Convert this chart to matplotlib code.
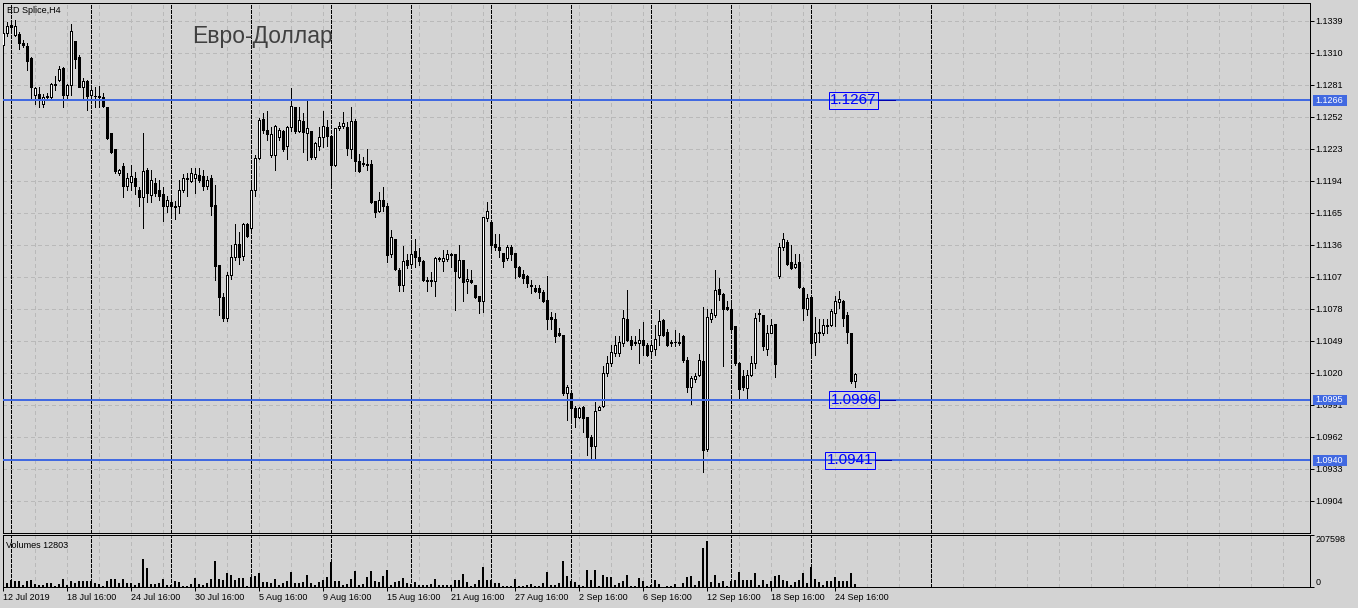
import numpy as np
import matplotlib.pyplot as plt
from matplotlib.patches import Rectangle
from matplotlib.ticker import FixedLocator

plt.rcParams['font.family'] = ['Liberation Sans', 'DejaVu Sans']

# EURUSD H4 candles
opens = [
    1.1317, 1.1328, 1.1335, 1.1326, 1.1327, 1.1319, 1.1316, 1.1305, 1.1272, 1.1273,
    1.1264, 1.1270, 1.1270, 1.1282, 1.1285, 1.1296, 1.1272, 1.1281, 1.1321, 1.1306,
    1.1279, 1.1284, 1.1272, 1.1271, 1.1271, 1.1270, 1.1261, 1.1237, 1.1223, 1.1201,
    1.1207, 1.1189, 1.1193, 1.1197, 1.1186, 1.1179, 1.1204, 1.1181, 1.1192, 1.1186,
    1.1182, 1.1171, 1.1175, 1.1171, 1.1171, 1.1186, 1.1196, 1.1194, 1.1197, 1.1199,
    1.1198, 1.1189, 1.1197, 1.1172, 1.1118, 1.1089, 1.1070, 1.1109, 1.1125, 1.1137,
    1.1126, 1.1155, 1.1151, 1.1186, 1.1215, 1.1250, 1.1240, 1.1217, 1.1217, 1.1234,
    1.1239, 1.1226, 1.1243, 1.1261, 1.1239, 1.1248, 1.1237, 1.1239, 1.1216, 1.1226,
    1.1234, 1.1243, 1.1235, 1.1208, 1.1242, 1.1244, 1.1243, 1.1223, 1.1248, 1.1212,
    1.1210, 1.1209, 1.1209, 1.1176, 1.1167, 1.1177, 1.1171, 1.1128, 1.1141, 1.1113,
    1.1100, 1.1122, 1.1119, 1.1130, 1.1125, 1.1121, 1.1104, 1.1103, 1.1103, 1.1124,
    1.1121, 1.1123, 1.1127, 1.1128, 1.1107, 1.1122, 1.1103, 1.1104, 1.1100, 1.1090,
    1.1085, 1.1160, 1.1157, 1.1137, 1.1134, 1.1129, 1.1124, 1.1134, 1.1129, 1.1116,
    1.1110, 1.1108, 1.1100, 1.1097, 1.1097, 1.1093, 1.1086, 1.1071, 1.1069, 1.1056,
    1.1054, 1.1002, 1.1002, 1.0988, 1.0980, 1.0989, 1.0980, 1.0962, 1.0954, 1.0986,
    1.0990, 1.1020, 1.1029, 1.1038, 1.1038, 1.1047, 1.1069, 1.1050, 1.1048, 1.1047,
    1.1050, 1.1045, 1.1040, 1.1042, 1.1054, 1.1068, 1.1057, 1.1047, 1.1048, 1.1048,
    1.1053, 1.1032, 1.1007, 1.1014, 1.1018, 1.1031, 1.0951, 1.1069, 1.1072, 1.1096,
    1.1091, 1.1080, 1.1078, 1.1062, 1.1029, 1.1017, 1.1006, 1.1018, 1.1029, 1.1074,
    1.1072, 1.1042, 1.1056, 1.1064, 1.1108, 1.1134, 1.1139, 1.1120, 1.1116, 1.1120,
    1.1097, 1.1078, 1.1089, 1.1048, 1.1056, 1.1056, 1.1062, 1.1063, 1.1074, 1.1084,
    1.1085, 1.1072, 1.1056, 1.1013,
]
highs = [
    1.1329, 1.1338, 1.1340, 1.1340, 1.1329, 1.1322, 1.1319, 1.1306, 1.1279, 1.1279,
    1.1273, 1.1274, 1.1283, 1.1289, 1.1298, 1.1297, 1.1282, 1.1336, 1.1321, 1.1308,
    1.1287, 1.1285, 1.1279, 1.1279, 1.1280, 1.1274, 1.1261, 1.1237, 1.1223, 1.1205,
    1.1210, 1.1201, 1.1208, 1.1202, 1.1188, 1.1237, 1.1206, 1.1204, 1.1197, 1.1195,
    1.1188, 1.1180, 1.1178, 1.1176, 1.1195, 1.1200, 1.1201, 1.1206, 1.1206, 1.1206,
    1.1204, 1.1198, 1.1199, 1.1190, 1.1118, 1.1092, 1.1111, 1.1136, 1.1155, 1.1148,
    1.1156, 1.1156, 1.1195, 1.1217, 1.1251, 1.1255, 1.1257, 1.1243, 1.1245, 1.1242,
    1.1240, 1.1244, 1.1278, 1.1261, 1.1261, 1.1255, 1.1267, 1.1239, 1.1229, 1.1243,
    1.1257, 1.1249, 1.1235, 1.1242, 1.1247, 1.1256, 1.1247, 1.1261, 1.1250, 1.1218,
    1.1216, 1.1223, 1.1213, 1.1176, 1.1184, 1.1188, 1.1174, 1.1149, 1.1141, 1.1115,
    1.1135, 1.1128, 1.1138, 1.1141, 1.1133, 1.1122, 1.1107, 1.1111, 1.1125, 1.1125,
    1.1131, 1.1131, 1.1129, 1.1128, 1.1136, 1.1122, 1.1114, 1.1113, 1.1100, 1.1090,
    1.1161, 1.1175, 1.1157, 1.1146, 1.1146, 1.1129, 1.1136, 1.1136, 1.1129, 1.1117,
    1.1113, 1.1109, 1.1104, 1.1100, 1.1100, 1.1095, 1.1108, 1.1075, 1.1074, 1.1061,
    1.1054, 1.1009, 1.1003, 1.0990, 1.0989, 1.0990, 1.0980, 1.0964, 1.0994, 1.0990,
    1.1026, 1.1035, 1.1045, 1.1053, 1.1053, 1.1077, 1.1095, 1.1053, 1.1053, 1.1060,
    1.1066, 1.1047, 1.1050, 1.1063, 1.1077, 1.1069, 1.1060, 1.1050, 1.1059, 1.1056,
    1.1054, 1.1034, 1.1017, 1.1020, 1.1037, 1.1080, 1.1078, 1.1078, 1.1113, 1.1106,
    1.1092, 1.1085, 1.1085, 1.1062, 1.1030, 1.1023, 1.1023, 1.1035, 1.1074, 1.1078,
    1.1072, 1.1063, 1.1069, 1.1064, 1.1138, 1.1147, 1.1140, 1.1136, 1.1128, 1.1128,
    1.1098, 1.1091, 1.1089, 1.1071, 1.1069, 1.1069, 1.1069, 1.1078, 1.1090, 1.1094,
    1.1086, 1.1075, 1.1056, 1.1020,
]
lows = [
    1.1306, 1.1325, 1.1328, 1.1325, 1.1313, 1.1315, 1.1294, 1.1268, 1.1264, 1.1261,
    1.1261, 1.1267, 1.1268, 1.1276, 1.1284, 1.1261, 1.1268, 1.1272, 1.1296, 1.1279,
    1.1269, 1.1258, 1.1267, 1.1261, 1.1261, 1.1261, 1.1232, 1.1219, 1.1201, 1.1199,
    1.1179, 1.1186, 1.1186, 1.1182, 1.1171, 1.1151, 1.1175, 1.1175, 1.1180, 1.1177,
    1.1158, 1.1166, 1.1163, 1.1159, 1.1165, 1.1184, 1.1180, 1.1193, 1.1183, 1.1193,
    1.1186, 1.1187, 1.1163, 1.1104, 1.1072, 1.1067, 1.1067, 1.1105, 1.1122, 1.1119,
    1.1122, 1.1143, 1.1150, 1.1180, 1.1214, 1.1237, 1.1231, 1.1216, 1.1204, 1.1231,
    1.1221, 1.1214, 1.1239, 1.1237, 1.1238, 1.1220, 1.1213, 1.1214, 1.1214, 1.1222,
    1.1225, 1.1226, 1.1191, 1.1207, 1.1240, 1.1242, 1.1217, 1.1215, 1.1203, 1.1202,
    1.1207, 1.1204, 1.1174, 1.1161, 1.1166, 1.1167, 1.1120, 1.1125, 1.1113, 1.1094,
    1.1094, 1.1115, 1.1115, 1.1116, 1.1118, 1.1103, 1.1094, 1.1099, 1.1090, 1.1121,
    1.1112, 1.1121, 1.1116, 1.1077, 1.1106, 1.1085, 1.1092, 1.1101, 1.1088, 1.1074,
    1.1075, 1.1158, 1.1131, 1.1131, 1.1125, 1.1116, 1.1122, 1.1122, 1.1106, 1.1107,
    1.1101, 1.1098, 1.1092, 1.1093, 1.1088, 1.1084, 1.1060, 1.1060, 1.1048, 1.1053,
    1.1000, 1.0977, 1.0976, 1.0971, 1.0979, 1.0966, 1.0946, 1.0941, 1.0941, 1.0986,
    1.0989, 1.1017, 1.1026, 1.1035, 1.1035, 1.1044, 1.1049, 1.1042, 1.1045, 1.1029,
    1.1036, 1.1035, 1.1034, 1.1036, 1.1045, 1.1053, 1.1044, 1.1044, 1.1044, 1.1045,
    1.1030, 1.1003, 1.0992, 1.1012, 1.1017, 1.0930, 1.0949, 1.1066, 1.1071, 1.1086,
    1.1026, 1.1077, 1.1059, 1.1027, 1.0997, 1.1004, 1.0997, 1.1017, 1.1024, 1.1067,
    1.1041, 1.1036, 1.1056, 1.1016, 1.1106, 1.1131, 1.1118, 1.1114, 1.1115, 1.1097,
    1.1068, 1.1072, 1.1036, 1.1036, 1.1048, 1.1054, 1.1056, 1.1062, 1.1062, 1.1079,
    1.1062, 1.1047, 1.1011, 1.1007,
]
closes = [
    1.1328, 1.1334, 1.1333, 1.1334, 1.1319, 1.1317, 1.1303, 1.1279, 1.1278, 1.1268,
    1.1270, 1.1271, 1.1282, 1.1281, 1.1295, 1.1272, 1.1281, 1.1330, 1.1304, 1.1279,
    1.1284, 1.1271, 1.1276, 1.1271, 1.1270, 1.1262, 1.1233, 1.1220, 1.1203, 1.1204,
    1.1189, 1.1197, 1.1198, 1.1189, 1.1179, 1.1203, 1.1183, 1.1195, 1.1183, 1.1180,
    1.1171, 1.1177, 1.1171, 1.1170, 1.1186, 1.1197, 1.1197, 1.1201, 1.1200, 1.1195,
    1.1189, 1.1195, 1.1171, 1.1117, 1.1089, 1.1070, 1.1109, 1.1125, 1.1137, 1.1125,
    1.1155, 1.1144, 1.1186, 1.1215, 1.1249, 1.1240, 1.1236, 1.1236, 1.1244, 1.1240,
    1.1223, 1.1243, 1.1262, 1.1239, 1.1249, 1.1238, 1.1242, 1.1216, 1.1228, 1.1234,
    1.1244, 1.1235, 1.1208, 1.1242, 1.1244, 1.1246, 1.1224, 1.1248, 1.1212, 1.1203,
    1.1209, 1.1208, 1.1175, 1.1166, 1.1177, 1.1171, 1.1127, 1.1143, 1.1114, 1.1100,
    1.1121, 1.1118, 1.1128, 1.1125, 1.1121, 1.1104, 1.1103, 1.1104, 1.1124, 1.1123,
    1.1124, 1.1128, 1.1128, 1.1112, 1.1122, 1.1102, 1.1105, 1.1102, 1.1089, 1.1085,
    1.1161, 1.1167, 1.1136, 1.1134, 1.1131, 1.1121, 1.1134, 1.1128, 1.1116, 1.1108,
    1.1106, 1.1101, 1.1099, 1.1094, 1.1093, 1.1085, 1.1069, 1.1069, 1.1053, 1.1054,
    1.1002, 1.1007, 1.0988, 1.0980, 1.0988, 1.0979, 1.0962, 1.0954, 1.0985, 1.0989,
    1.1020, 1.1029, 1.1039, 1.1045, 1.1048, 1.1070, 1.1050, 1.1045, 1.1047, 1.1050,
    1.1045, 1.1036, 1.1045, 1.1051, 1.1067, 1.1054, 1.1045, 1.1048, 1.1048, 1.1047,
    1.1032, 1.1007, 1.1015, 1.1017, 1.1032, 1.0950, 1.1071, 1.1074, 1.1095, 1.1091,
    1.1078, 1.1078, 1.1060, 1.1029, 1.1005, 1.1007, 1.1018, 1.1029, 1.1070, 1.1073,
    1.1044, 1.1056, 1.1063, 1.1028, 1.1134, 1.1141, 1.1119, 1.1115, 1.1119, 1.1098,
    1.1079, 1.1088, 1.1047, 1.1056, 1.1057, 1.1063, 1.1063, 1.1076, 1.1085, 1.1087,
    1.1070, 1.1057, 1.1013, 1.1019,
]
volumes = [
    14000,
    16000, 29300, 24000, 24000, 10600, 24000, 30600, 13300, 10600, 10600,
    16000, 18600, 6700, 13300, 33300, 10600, 26600, 16000, 24000, 26600,
    24000, 26600, 17300, 13300, 6700, 26600, 33300, 33300, 16000, 33300,
    16000, 16000, 9300, 16000, 113100, 77200, 13300, 13300, 16000, 33300,
    10600, 8000, 24000, 22600, 6700, 6700, 13300, 37300, 13300, 10600,
    16000, 33300, 106500, 33300, 30600, 57200, 49200, 30600, 37300, 35900,
    6700, 39900, 43900, 57200, 22600, 20000, 16000, 33300, 10600, 17300,
    26600, 62500, 16000, 17300, 20000, 50600, 16000, 10600, 20000, 30600,
    39900, 99800, 24000, 24000, 10600, 13300, 33300, 66500, 10600, 13300,
    42600, 66500, 26600, 20000, 46600, 69200, 10600, 22600, 26600, 37300,
    16000, 13300, 22600, 9300, 10600, 10600, 13300, 33300, 9300, 9300,
    9300, 9300,
    29300, 29300, 53200, 22600, 6700, 13300, 29300, 82500, 29300, 29300,
    16000, 16000, 6700, 6700, 6700, 33300, 6700, 6700, 10600, 13300,
    6700, 6700, 16000, 62500, 10600, 10600, 16000, 106500, 46600, 24000,
    20000, 10600, 6700, 69200, 29300, 69200, 6700, 50600, 39900, 39900,
    10600, 16000, 26600, 50600, 6700, 6700, 37300, 26600, 6700, 10600,
    29300, 13300, 2700, 6700, 6700, 13300, 2700, 16000, 42600, 46600,
    10600, 26600, 157000, 186300, 22600, 50600, 16000, 26600, 6700, 24000,
    29300, 62500, 29300, 29300, 29300, 58600, 10600, 29300, 13300, 24000,
    46600, 50600, 29300, 24000, 10600, 20000, 29300, 58600, 16000, 79800,
    33300, 22600, 10600, 24000, 24000, 42600, 26600, 24000, 26600, 55900,
    12803,
]
vol_max = 207598

x_labels = ['12 Jul 2019', '18 Jul 16:00', '24 Jul 16:00', '30 Jul 16:00',
            '5 Aug 16:00', '9 Aug 16:00', '15 Aug 16:00', '21 Aug 16:00',
            '27 Aug 16:00', '2 Sep 16:00', '6 Sep 16:00', '12 Sep 16:00',
            '18 Sep 16:00', '24 Sep 16:00']
price_ticks = [1.1339, 1.1310, 1.1281, 1.1252, 1.1223, 1.1194, 1.1165, 1.1136,
               1.1107, 1.1078, 1.1049, 1.1020, 1.0991, 1.0962, 1.0933, 1.0904]
week_starts = [2, 22, 42, 62, 82, 102, 122, 142, 162, 182, 202, 232]

# horizontal levels
levels = [1.12668, 1.09957, 1.09406]
level_tags = ['1.1266', '1.0995', '1.0940']
level_notes = ['1.1267', '1.0996', '1.0941']

bg = '#d3d3d3'
grid_c = '#b9b9b9'
blue = '#4169e1'
W, H = 1358, 608
px = 0.72  # one pixel in points

fig = plt.figure(figsize=(W / 100, H / 100), dpi=100, facecolor=bg)


def rect(l, t, r, b):
    return [l / W, 1 - b / H, (r - l) / W, (b - t) / H]


ax = fig.add_axes(rect(3, 2.7, 1310, 533.3), facecolor=bg)
axv = fig.add_axes(rect(3, 535.3, 1310, 587.3), facecolor=bg, sharex=ax)

o = np.array(opens)
h = np.array(highs)
l = np.array(lows)
c = np.array(closes)
x = np.arange(len(c))

# candles
ax.vlines(x, l, h, colors='black', lw=px, antialiased=False, zorder=3)
body_lo = np.minimum(o, c)
body_h = np.maximum(np.abs(c - o), 0.00002)
body_col = ['white' if cc >= oo else 'black' for oo, cc in zip(o, c)]
ax.bar(x, body_h, bottom=body_lo, width=0.5, color=body_col,
       edgecolor='black', linewidth=px, antialiased=False, zorder=4)

# volumes
axv.bar(x, volumes, width=0.5, color='black', antialiased=False, zorder=3)

ax.set_xlim(-0.01, 326.75)
ax.set_ylim(1.08746, 1.13554)
axv.set_ylim(0, vol_max)

# grid + ticks
label_pos = [16 * k for k in range(len(x_labels))]
grid_pos = [p for p in range(0, 327, 8) if p not in label_pos]
axv.xaxis.set_major_locator(FixedLocator(label_pos))
axv.xaxis.set_minor_locator(FixedLocator(grid_pos))
axv.set_xticklabels(x_labels)
plt.setp(axv.get_xticklabels(), ha='left')
axv.tick_params(axis='x', which='major', length=3.2, width=px, pad=0.6, labelsize=6.5)
axv.tick_params(axis='x', which='minor', length=0)
ax.tick_params(axis='x', which='both', length=0, labelbottom=False)

ax.yaxis.tick_right()
ax.set_yticks(price_ticks)
ax.set_yticklabels([f'{p:.4f}' for p in price_ticks])
ax.tick_params(axis='y', length=2.9, width=px, pad=1.2, labelsize=6.5)

axv.yaxis.tick_right()
axv.set_yticks([0, vol_max])
axv.tick_params(axis='y', length=2.9, width=px, labelright=False)
axv.text(1 + 5.5 / 1307, vol_max, str(vol_max), transform=axv.get_yaxis_transform(),
         ha='left', va='top', fontsize=6.5, clip_on=False)
axv.text(1 + 5.5 / 1307, 0, '0', transform=axv.get_yaxis_transform(),
         ha='left', va='bottom', fontsize=6.5, clip_on=False)

dash_grid = (0, (3, 3))
ax.grid(True, which='both', color=grid_c, ls=dash_grid, lw=px, antialiased=False)
axv.grid(True, which='both', axis='x', color=grid_c, ls=dash_grid, lw=px, antialiased=False)
for a in (ax, axv):
    a.set_axisbelow(True)
    for s in a.spines.values():
        s.set_linewidth(px)
        s.set_color('black')
    for w in week_starts:
        a.axvline(w, color='black', lw=px, ls=(0, (3, 2)), antialiased=False, zorder=1.5)

# horizontal levels with labels
ppx = (1.13554 - 1.08746) / 530.6  # price per pixel
note_x = [212.6, 212.7, 211.7]
for lvl, tag, note, nx in zip(levels, level_tags, level_notes, note_x):
    ax.axhline(lvl, color=blue, lw=1.44, zorder=5)
    ax.text(nx, lvl, note, ha='center', va='center', fontsize=11, color='#0000ff', zorder=6,
            bbox=dict(boxstyle='square,pad=0.1', fc='none', ec='#0000ff', lw=px))
    ax.plot([nx + 6.2, nx + 10.4], [lvl, lvl], color='#0000b0', lw=px,
            antialiased=False, zorder=6)
    ax.add_patch(Rectangle((1 + 2.7 / 1307, lvl - 5.15 * ppx), 34 / 1307, 10.3 * ppx,
                           transform=ax.get_yaxis_transform(), fc=blue, ec='none',
                           clip_on=False, zorder=7))
    ax.text(1 + 5.3 / 1307, lvl, tag, transform=ax.get_yaxis_transform(), ha='left',
            va='center', fontsize=6.5, color='white', clip_on=False, zorder=8)

fig.text(6.5 / W, 1 - 13 / H, 'ED Splice,H4', fontsize=6.5, va='baseline')
fig.text(192 / W, 1 - 42.5 / H, 'Евро-Доллар', fontsize=16.5, color='#404040', va='baseline')
fig.text(6 / W, 1 - 548.5 / H, f'Volumes {volumes[-1]}', fontsize=6.5, va='baseline')

fig.savefig('out.png', dpi=100, facecolor=bg)
